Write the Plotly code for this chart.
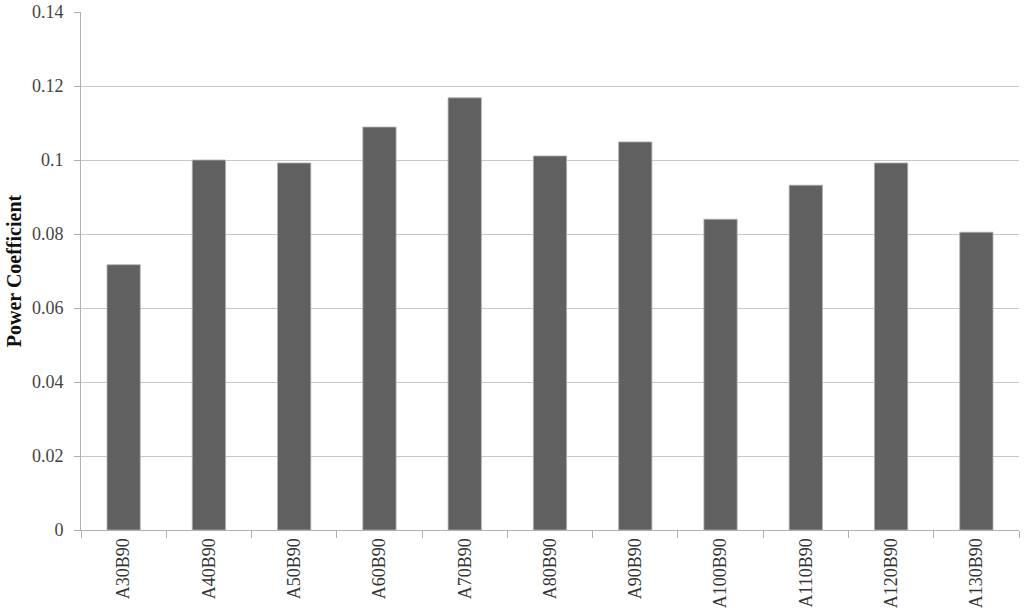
import plotly.graph_objects as go

# configurations and their power coefficient
configs = ['A30B90', 'A40B90', 'A50B90', 'A60B90', 'A70B90', 'A80B90',
           'A90B90', 'A100B90', 'A110B90', 'A120B90', 'A130B90']
power_coeff = [0.0717, 0.1000, 0.0992, 0.1089, 0.1168, 0.1011,
               0.1049, 0.0840, 0.0932, 0.0992, 0.0805]
y_ticks = [0, 0.02, 0.04, 0.06, 0.08, 0.1, 0.12, 0.14]

font_name = 'Liberation Serif'

fig = go.Figure()
fig.add_trace(go.Bar(x=configs, y=power_coeff, width=0.39,
                     marker=dict(color='#606060', line=dict(color='#b0b0b0', width=0.8))))

fig.update_layout(
    width=1024, height=614,
    margin=dict(l=81, r=5, t=12, b=84),
    plot_bgcolor='white', paper_bgcolor='white',
    showlegend=False,
    font=dict(family=font_name, size=18, color='#444444'),
)
fig.update_yaxes(range=[0, 0.14001], tickvals=y_ticks, ticktext=[str(v) for v in y_ticks],
                 automargin=False,
                 showgrid=True, gridcolor='#c8c8c8', gridwidth=1,
                 showline=True, linecolor='#b0b0b0', linewidth=1,
                 ticks='outside', ticklen=6, tickcolor='#b0b0b0',
                 ticklabelstandoff=7,
                 tickfont=dict(family=font_name, size=18, color='#444444'),
                 zeroline=False,
                 title=dict(text='<b>Power Coefficient</b>', font=dict(family=font_name, size=20, color='#111111'), standoff=4))
fig.update_xaxes(tickangle=-90, showline=True, linecolor='#b0b0b0', linewidth=1,
                 automargin=False,
                 ticks='outside', ticklen=7, tickcolor='#b0b0b0', tickson='boundaries',
                 tickfont=dict(family=font_name, size=18, color='#333333'),
                 mirror=False)

# drop the default 8px page margin so the figure sits at the window corner
fig.write_html("out.html", config={'displayModeBar': False},
               post_script="document.body.style.margin='0';")
